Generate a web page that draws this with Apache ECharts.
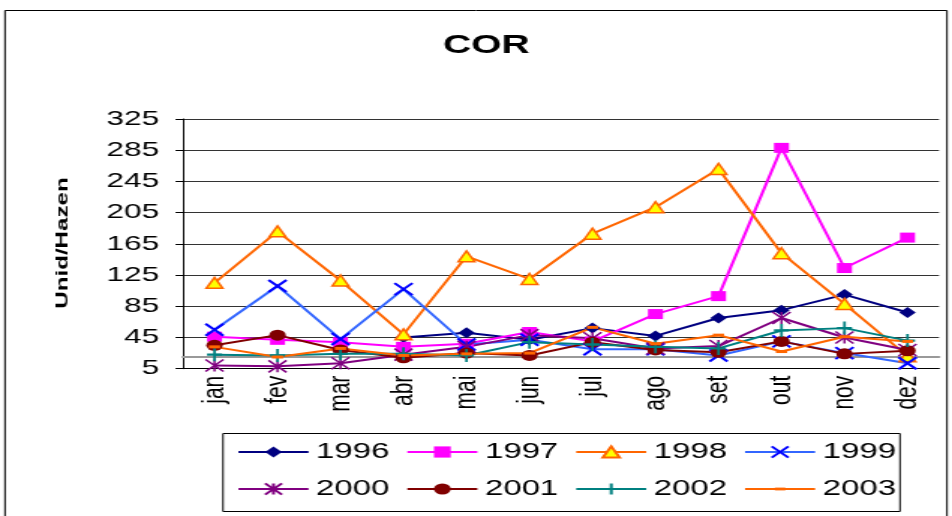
<!DOCTYPE html>
<html>

<head>
    <meta charset="utf-8">
    <title>COR</title>
    <script src="https://cdn.jsdelivr.net/npm/echarts@6/dist/echarts.min.js"></script>
    <style>
        html,
        body {
            margin: 0;
            padding: 0;
            width: 952px;
            height: 516px;
            overflow: hidden;
            background: #fff;
        }

        /* the original picture is stretched sideways, so the chart is drawn narrow and widened */
        #main {
            width: 635px;
            height: 516px;
            transform: scaleX(1.4992);
            transform-origin: 0 0;
        }
    </style>
</head>

<body>
    <div id="main"></div>

    <script>
        const months = ['jan', 'fev', 'mar', 'abr', 'mai', 'jun', 'jul', 'ago', 'set', 'out', 'nov', 'dez'];
        const years = ['1996', '1997', '1998', '1999', '2000', '2001', '2002', '2003'];

        const v1996 = [null, null, null, 45, 51, 42, 57, 47, 70, 80, 100, 77];
        const v1997 = [46, 42, 39, 33, 37, 52, 40, 75, 98, 288, 134, 173];
        const v1998 = [115, 181, 118, 49, 149, 120, 178, 212, 261, 153, 88, 21];
        const v1999 = [55, 111, 43, 107, 36, 42, 30, 30, 22, 40, 25, 12];
        const v2000 = [9, 8, 12, 23, 33, 48, 44, 31, 34, 70, 45, 29];
        const v2001 = [35, 48, 29, 19, 25, 22, 39, 29, 26, 40, 24, 28];
        const v2002 = [23, 22, 24, 24, 22, 39, 36, 33, 31, 54, 57, 41];
        const v2003 = [33, 20, 31, 22, 24, 25, 58, 37, 48, 27, 46, 40];
        const values = [v1996, v1997, v1998, v1999, v2000, v2001, v2002, v2003];

        const yMin = 5, yMax = 325, yStep = 40;
        const refLevel = 20;

        // small bar with empty padding so it stays a dash in the legend too
        const dash = 'path://M0,-6L0,-6M3,0L13,0L13,4L3,4ZM16,10L16,10';

        // marker and line look per year
        const looks = [
            { line: '#000080', fill: '#000080', border: '#000080', bw: 0, symbol: 'diamond', size: [11, 11] },
            { line: '#FF00FF', fill: '#FF00FF', border: '#FF00FF', bw: 0, symbol: 'rect', size: [10, 10] },
            { line: '#FF6600', fill: '#FFFF00', border: '#FF6600', bw: 1.5, symbol: 'triangle', size: [11, 11] },
            { line: '#3366FF', fill: '#0000FF', border: '#0000FF', bw: 2, symbol: 'path://M0,0L10,10M10,0L0,10', size: [12, 12] },
            { line: '#800080', fill: '#800080', border: '#800080', bw: 1.5, symbol: 'path://M0,0L10,10M10,0L0,10M5,0L5,10', size: [12, 12] },
            { line: '#800000', fill: '#800000', border: '#800000', bw: 0, symbol: 'circle', size: [11, 11] },
            { line: '#008080', fill: '#008080', border: '#008080', bw: 2, symbol: 'path://M5,0L5,10M0,5L10,5', size: [10, 13] },
            { line: '#FF6600', fill: '#FF6600', border: '#FF6600', bw: 0, symbol: dash, size: [12, 12] }
        ];

        const S = 952 / 635;
        const ux = px => px / S; // picture x -> chart x

        const font = "'Liberation Sans', Arial, sans-serif";
        const gridTop = 119, gridBottom = 368.7;
        const gridH = gridBottom - gridTop;
        const refOffset = (refLevel - yMin) / (yMax - yMin) * gridH;

        const chart = echarts.init(document.getElementById('main'));

        chart.setOption({
            animation: false,
            backgroundColor: '#fff',
            title: {
                text: 'COR',
                left: ux(443),
                top: 33,
                padding: 0,
                textStyle: { fontFamily: font, fontSize: 26, fontWeight: 'bold', color: '#000' }
            },
            grid: {
                left: ux(183),
                right: 635 - ux(939),
                top: gridTop,
                bottom: 516 - gridBottom,
                containLabel: false
            },
            legend: {
                data: years,
                left: ux(237),
                top: 439,
                width: 450,
                padding: 0,
                itemWidth: ux(307) - ux(237),
                itemHeight: 14,
                itemGap: 11,
                textStyle: { fontFamily: font, fontSize: 22, lineHeight: 26, color: '#000' }
            },
            xAxis: [{
                type: 'category',
                data: months,
                boundaryGap: true,
                axisLine: { lineStyle: { color: '#000', width: 1 } },
                axisTick: { show: false },
                axisLabel: { rotate: 90, fontFamily: font, fontSize: 21, color: '#000', margin: 7, interval: 0 },
                splitLine: { show: false }
            }, {
                // gray reference line at 20 carrying the category ticks
                type: 'category',
                data: months,
                position: 'bottom',
                offset: -refOffset,
                boundaryGap: true,
                axisLine: { lineStyle: { color: '#999', width: 2 } },
                axisTick: { length: 6, lineStyle: { color: '#444', width: 1 } },
                axisLabel: { show: false },
                splitLine: { show: false }
            }],
            yAxis: {
                type: 'value',
                min: yMin,
                max: yMax,
                interval: yStep,
                axisLine: { show: true, lineStyle: { color: '#000', width: 1 } },
                axisTick: { show: true, length: 5, lineStyle: { color: '#000' } },
                axisLabel: { fontFamily: font, fontSize: 21, color: '#000', margin: 16 },
                splitLine: { show: true, lineStyle: { color: '#333', width: 1 } }
            },
            graphic: [{
                type: 'rect',
                shape: { x: ux(5), y: 10.5, width: ux(947) - ux(5), height: 600 },
                style: { fill: 'none', stroke: '#000', lineWidth: 1 },
                silent: true,
                z: -1
            }, {
                type: 'rect',
                shape: { x: ux(223), y: 433.5, width: ux(900) - ux(223), height: 78 },
                style: { fill: 'none', stroke: '#000', lineWidth: 1 },
                silent: true
            }, {
                type: 'text',
                x: ux(62.5),
                y: 243,
                rotation: Math.PI / 2,
                scaleX: 2.3,
                style: {
                    text: 'Unid/Hazen',
                    fontFamily: font,
                    fontSize: 10.5,
                    fontWeight: 'bold',
                    fill: '#000',
                    align: 'center',
                    verticalAlign: 'middle'
                },
                silent: true
            }],
            series: years.map((y, i) => ({
                name: y,
                type: 'line',
                data: values[i],
                symbol: looks[i].symbol,
                symbolSize: looks[i].size,
                showAllSymbol: true,
                connectNulls: false,
                lineStyle: { color: looks[i].line, width: 2 },
                itemStyle: {
                    color: looks[i].fill,
                    borderColor: looks[i].border,
                    borderWidth: looks[i].bw
                },
                emphasis: { disabled: true }
            }))
        });
    </script>
</body>

</html>
